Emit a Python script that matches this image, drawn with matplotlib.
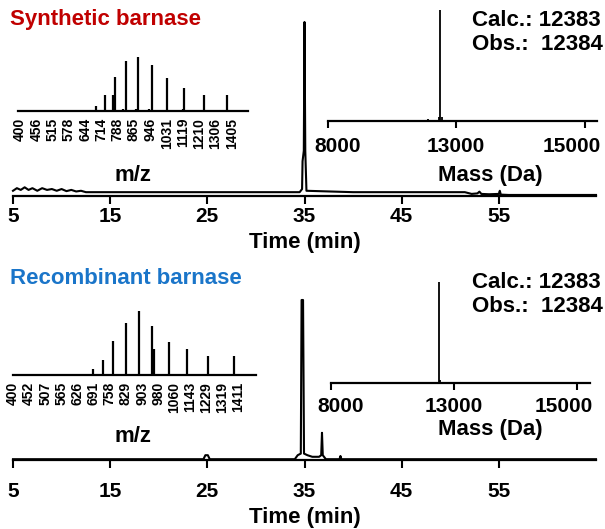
import numpy as np
import matplotlib
matplotlib.use("Agg")
import matplotlib.pyplot as plt

plt.rcParams['font.family'] = ['Liberation Sans', 'DejaVu Sans']
plt.rcParams['font.weight'] = 'bold'

W, H = 605, 529

# ---- HPLC traces (time in min, normalised absorbance) ----
syn_time = [5, 5.4, 5.8, 6.2, 6.6, 7.0, 7.5, 8.0, 8.5, 9.0, 9.5, 10.0, 10.5, 11.0, 11.5, 12.0, 12.5,
            20, 30, 34.5, 34.75, 34.8, 34.93, 35.0, 35.08, 35.2, 40, 51.5, 52.2, 52.8, 53.0, 53.2,
            54.0, 55.0, 55.1, 55.2, 56, 60, 65]
syn_abs = [0.03, 0.045, 0.035, 0.05, 0.035, 0.045, 0.03, 0.045, 0.035, 0.04, 0.03, 0.04, 0.028, 0.035,
           0.026, 0.03, 0.022, 0.022, 0.022, 0.022, 0.04, 0.2, 0.26, 1.0, 0.26, 0.03, 0.022, 0.022,
           0.012, 0.015, 0.025, 0.012, 0.01, 0.012, 0.03, 0.008, 0.006, 0.006, 0.006]

rec_time = [5, 24.6, 24.8, 25.05, 25.25, 34.0, 34.3, 34.62, 34.7, 34.85, 34.95, 35.3, 35.8, 36.5,
            36.72, 36.8, 36.88, 37.2, 38.6, 38.7, 38.8, 39.0, 65]
rec_abs = [0.005, 0.005, 0.03, 0.03, 0.005, 0.005, 0.03, 0.04, 1.0, 1.0, 0.04, 0.03, 0.02, 0.02,
           0.03, 0.17, 0.03, 0.005, 0.005, 0.025, 0.005, 0.005, 0.005]

time_ticks = [5, 15, 25, 35, 45, 55]

# ---- ESI m/z spectra (stick) ----
syn_mz = [689, 729, 768, 775, 814, 826, 875, 886, 939, 954, 1033, 1118, 1127, 1239, 1377]
syn_int = [9, 29, 30, 63, 3, 92, 3, 100, 4, 86, 62, 3, 43, 29, 29]
syn_mz_ticks = [400, 456, 515, 578, 644, 714, 788, 865, 946, 1031, 1119, 1210, 1306, 1405]

rec_mz = [686, 728, 772, 828, 887, 950, 960, 1035, 1127, 1236, 1382]
rec_int = [9, 24, 53, 81, 100, 77, 41, 52, 41, 29, 29]
rec_mz_ticks = [400, 452, 507, 565, 626, 691, 758, 829, 903, 980, 1060, 1143, 1229, 1319, 1411]

# ---- deconvoluted mass spectra ----
syn_mass = [11920, 12330, 12384, 12440]
syn_mass_int = [0.02, 0.04, 1.0, 0.04]
rec_mass = [12384, 12420]
rec_mass_int = [1.0, 0.03]
mass_ticks = [8000, 13000, 15000]


def rect(x0, y0, x1, y1):
    return [x0 / W, 1 - y1 / H, (x1 - x0) / W, (y1 - y0) / H]


def ax_coords(box, x, y):
    x0, y0, x1, y1 = box
    return (x - x0) / (x1 - x0), (y1 - y) / (y1 - y0)


def only_bottom(ax):
    for s in ['top', 'right', 'left']:
        ax.spines[s].set_visible(False)
    ax.spines['bottom'].set_linewidth(1.6)
    ax.set_yticks([])
    ax.set_facecolor('none')


def mass_fwd(x):
    x = np.asarray(x, dtype=float)
    return np.where(x <= 13000, x, 13000 + (x - 13000) * 2.5)


def mass_inv(y):
    y = np.asarray(y, dtype=float)
    return np.where(y <= 13000, y, 13000 + (y - 13000) / 2.5)


fig = plt.figure(figsize=(W / 100, H / 100), dpi=100)


def chromatogram(box, t, a, label_y, pad):
    ax = fig.add_axes(rect(*box))
    only_bottom(ax)
    ax.plot(t, a, color='black', lw=1.5, clip_on=False)
    ax.set_xlim(5, 65)
    ax.set_ylim(0, 1)
    ax.set_xticks(time_ticks)
    ax.tick_params(axis='x', direction='out', length=6, width=1.5, pad=pad, labelsize=15)
    ax.set_xlabel('Time (min)', fontsize=16, fontweight='bold')
    ax.xaxis.set_label_coords(*ax_coords(box, 305, label_y))
    return ax


def mz_inset(box, mz, inten, ticks, xlim, label_y):
    ax = fig.add_axes(rect(*box))
    only_bottom(ax)
    ax.set_xscale('function', functions=(np.sqrt, np.square))
    ax.vlines(mz, 0, inten, color='black', lw=1.6)
    ax.set_xlim(*xlim)
    ax.set_ylim(0, 100)
    ax.set_xticks(ticks)
    ax.set_xticklabels([str(v) for v in ticks], rotation=90)
    ax.xaxis.set_minor_locator(plt.NullLocator())
    ax.tick_params(axis='x', length=0, pad=5, labelsize=10)
    ax.set_xlabel('m/z', fontsize=16, fontweight='bold')
    ax.xaxis.set_label_coords(*ax_coords(box, 133, label_y))
    return ax


def mass_inset(box, mass, inten, xlim, tick_dx, tick_y, label_y, text_y):
    ax = fig.add_axes(rect(*box))
    only_bottom(ax)
    ax.set_xscale('function', functions=(mass_fwd, mass_inv))
    ax.vlines(mass, 0, inten, color='black', lw=1.3)
    ax.set_xlim(*xlim)
    ax.set_ylim(0, 1)
    ax.set_xticks(mass_ticks)
    ax.set_xticklabels([])
    ax.xaxis.set_minor_locator(plt.NullLocator())
    ax.tick_params(axis='x', direction='out', length=5, width=1.5)
    _, ty = ax_coords(box, 0, tick_y)
    for m, dx in zip(mass_ticks, tick_dx):
        ax.annotate(str(m), xy=(m, ty), xycoords=('data', 'axes fraction'),
                    xytext=(dx, 0), textcoords='offset pixels',
                    ha='center', va='center', fontsize=15, fontweight='bold')
    ax.set_xlabel('Mass (Da)', fontsize=16, fontweight='bold')
    ax.xaxis.set_label_coords(*ax_coords(box, 490, label_y))
    ax.xaxis.label.set_va('center')
    fig.text(472 / W, 1 - text_y[0] / H, 'Calc.: 12383', fontsize=16,
             fontweight='bold', va='center', ha='left')
    fig.text(472 / W, 1 - text_y[1] / H, 'Obs.:  12384', fontsize=16,
             fontweight='bold', va='center', ha='left')
    return ax


# top panel: synthetic barnase
chromatogram((13, 22, 596, 196), syn_time, syn_abs, 232, 2)
mz_inset((18, 57, 248, 111), syn_mz, syn_int, syn_mz_ticks, (393, 1508), 165)
mass_inset((327.7, 10, 597, 121), syn_mass, syn_mass_int, (8000, 15190),
           (10, 0, -13), 147, 175, (20, 45))
fig.text(10 / W, 1 - 20 / H, 'Synthetic barnase', color='#c00000', fontsize=16,
         fontweight='bold', va='center', ha='left')

# bottom panel: recombinant barnase
chromatogram((13, 300, 596, 460), rec_time, rec_abs, 507, 10)
mz_inset((13, 311, 256, 375), rec_mz, rec_int, rec_mz_ticks, (400, 1515), 426)
mass_inset((330.7, 282, 590, 383), rec_mass, rec_mass_int, (8000, 15210),
           (10, 0, -13), 407, 430, (282, 307))
fig.text(10 / W, 1 - 279 / H, 'Recombinant barnase', color='#1a75c9', fontsize=16,
         fontweight='bold', va='center', ha='left')

fig.savefig('out.png', dpi=100)
